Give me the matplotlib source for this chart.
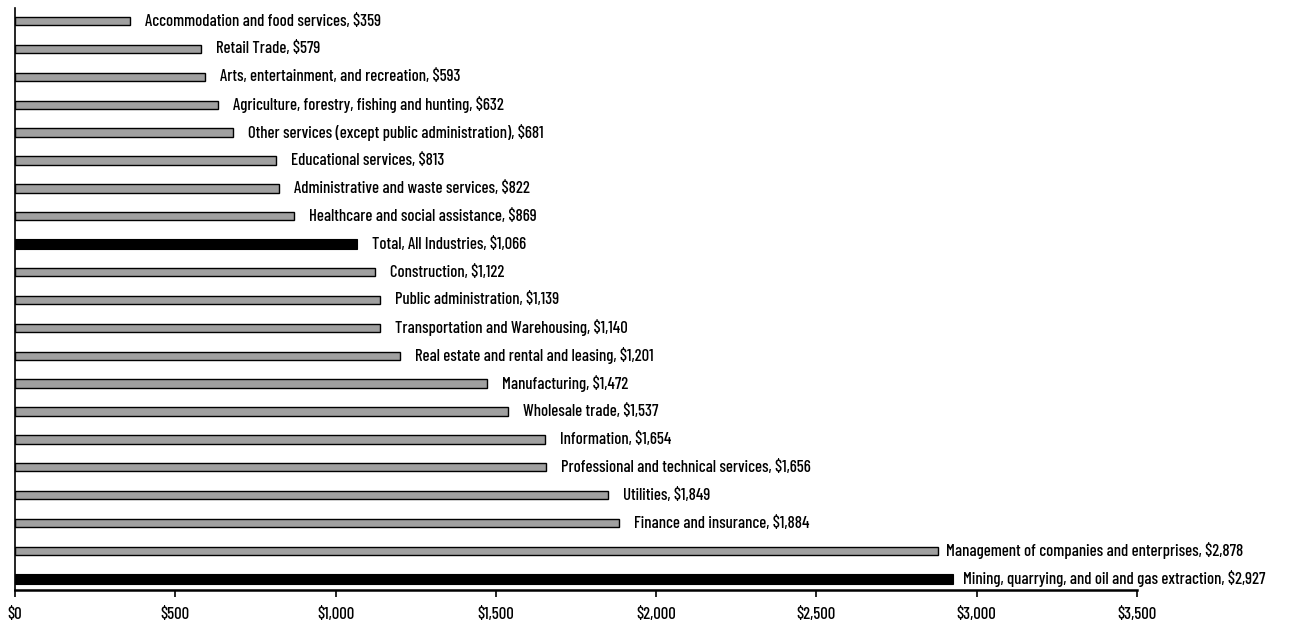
import matplotlib
matplotlib.use("Agg")
import matplotlib.pyplot as plt
from matplotlib import font_manager
from matplotlib.transforms import offset_copy

names = {f.name for f in font_manager.fontManager.ttflist}
prefs = ["Barlow Condensed", "Roboto Condensed", "Archivo Narrow", "PT Sans Narrow",
         "Asap Condensed", "Encode Sans Condensed", "Liberation Sans Narrow", "Oswald"]
fam = next((p for p in prefs if p in names), None)
if fam is None:
    cands = sorted(n for n in names if "Condensed" in n or "Narrow" in n)
    fam = cands[0] if cands else "DejaVu Sans"
plt.rcParams['font.family'] = [fam, 'DejaVu Sans']
plt.rcParams['font.weight'] = 500

categories = [
    "Mining, quarrying, and oil and gas extraction",
    "Management of companies and enterprises",
    "Finance and insurance",
    "Utilities",
    "Professional and technical services",
    "Information",
    "Wholesale trade",
    "Manufacturing",
    "Real estate and rental and leasing",
    "Transportation and Warehousing",
    "Public administration",
    "Construction",
    "Total, All Industries",
    "Healthcare and social assistance",
    "Administrative and waste services",
    "Educational services",
    "Other services (except public administration)",
    "Agriculture, forestry, fishing and hunting",
    "Arts, entertainment, and recreation",
    "Retail Trade",
    "Accommodation and food services",
]
values = [2927, 2878, 1884, 1849, 1656, 1654, 1537, 1472, 1201, 1140, 1139,
          1122, 1066, 869, 822, 813, 681, 632, 593, 579, 359]
highlight = ["Mining, quarrying, and oil and gas extraction", "Total, All Industries"]
xticks = [0, 500, 1000, 1500, 2000, 2500, 3000, 3500]
xticklabels = ["$0", "$500", "$1,000", "$1,500", "$2,000", "$2,500", "$3,000", "$3,500"]

fig = plt.figure(figsize=(12.89, 6.24), dpi=100)
ax = fig.add_axes([15/1289, 1 - 590/624, (1137-15)/1289, (590-8)/624])

# fit font size so the longest label matches the reference width (~302 px)
renderer = fig.canvas.get_renderer()
probe = fig.text(0, 0, f"{categories[0]}, ${values[0]:,}", fontsize=12)
w = probe.get_window_extent(renderer).width
probe.remove()
fs = min(13.0, 12 * 302 / w)

# label gap (pixels) after the bar end; the two longest bars sit closer
gap_px = {categories[0]: 10, categories[1]: 8}

ypos = list(range(len(categories)))
for y, c, v in zip(ypos, categories, values):
    if c in highlight:
        ax.barh(y, v, height=0.36, color="black", edgecolor="black", linewidth=0.8)
    else:
        ax.barh(y, v, height=0.30, color="#a0a0a0", edgecolor="black", linewidth=1.0)
    tr = offset_copy(ax.transData, fig=fig, x=gap_px.get(c, 15), y=0, units="dots")
    ax.text(v, y, f"{c}, ${v:,}", va="center", ha="left", fontsize=fs,
            clip_on=False, transform=tr)

ax.set_xlim(0, 3500)
ax.set_ylim(-0.4, 20.47)
ax.set_xticks(xticks)
ax.set_xticklabels(xticklabels, fontsize=fs)
ax.set_yticks([])
ax.spines['top'].set_visible(False)
ax.spines['right'].set_visible(False)
ax.spines['left'].set_linewidth(1.2)
ax.spines['bottom'].set_linewidth(1.8)
ax.tick_params(axis='x', direction='out', length=5, width=1.2, pad=7)

fig.savefig("out.png", dpi=100)
